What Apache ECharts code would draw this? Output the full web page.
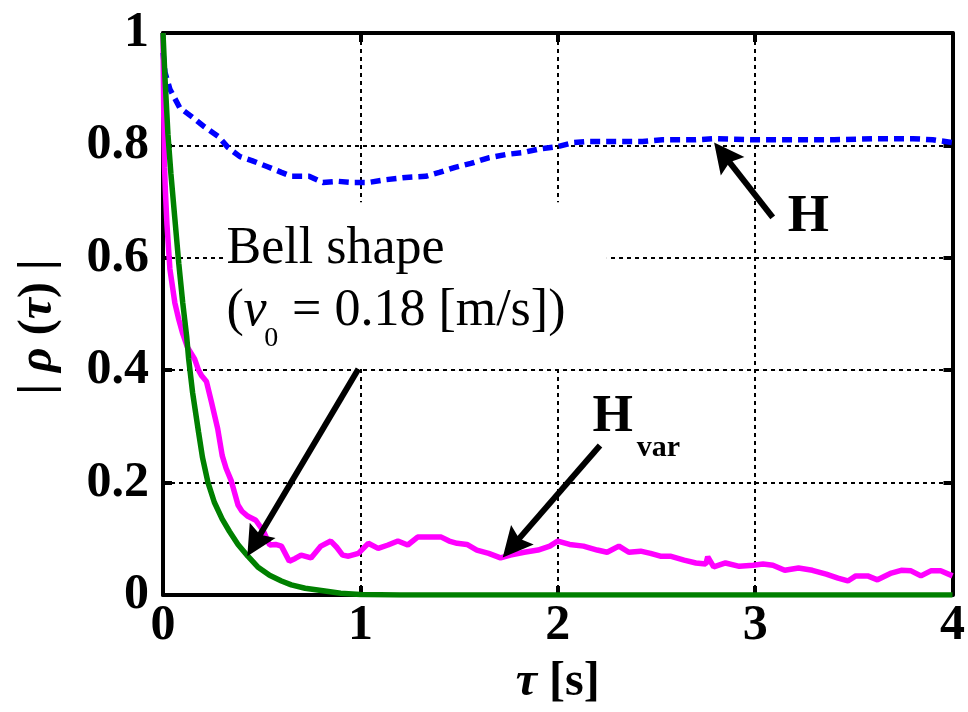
<!DOCTYPE html>
<html><head><meta charset="utf-8">
<script src="https://cdn.jsdelivr.net/npm/echarts@6/dist/echarts.min.js"></script>
<style>html,body{margin:0;padding:0;background:#fff}#c{width:968px;height:712px}</style>
</head><body><div id="c"></div>
<script>
// ---- data ----
const xTicks = [0, 1, 2, 3, 4];
const yTicks = [0, 0.2, 0.4, 0.6, 0.8, 1];

const hData = [[0,0.965],[0.01,0.93],[0.035,0.90],[0.085,0.867],[0.15,0.85],[0.21,0.833],[0.28,0.816],[0.33,0.796],[0.39,0.78],[0.45,0.773],[0.53,0.762],[0.60,0.752],[0.65,0.745],[0.74,0.745],[0.81,0.734],[0.89,0.736],[0.96,0.734],[1.04,0.734],[1.13,0.739],[1.23,0.743],[1.33,0.745],[1.40,0.752],[1.48,0.761],[1.56,0.768],[1.65,0.778],[1.74,0.784],[1.82,0.787],[1.91,0.794],[2.0,0.798],[2.08,0.805],[2.16,0.807],[2.26,0.807],[2.34,0.807],[2.43,0.807],[2.53,0.81],[2.7,0.81],[2.8,0.812],[3.0,0.81],[3.2,0.81],[3.4,0.81],[3.6,0.812],[3.8,0.812],[3.9,0.81],[4.0,0.805]];

const hVarData = [[0,1],[0.004,0.85],[0.008,0.76],[0.012,0.72],[0.02,0.66],[0.035,0.58],[0.06,0.52],[0.08,0.49],[0.10,0.465],[0.125,0.44],[0.16,0.42],[0.18,0.40],[0.196,0.39],[0.22,0.38],[0.245,0.344],[0.277,0.296],[0.30,0.248],[0.32,0.225],[0.345,0.204],[0.38,0.16],[0.40,0.149],[0.43,0.14],[0.47,0.133],[0.51,0.113],[0.54,0.089],[0.57,0.09],[0.60,0.087],[0.64,0.06],[0.67,0.065],[0.70,0.071],[0.75,0.066],[0.80,0.087],[0.85,0.096],[0.88,0.085],[0.91,0.071],[0.94,0.069],[0.99,0.074],[1.04,0.092],[1.09,0.083],[1.14,0.089],[1.19,0.096],[1.24,0.089],[1.29,0.103],[1.34,0.103],[1.41,0.103],[1.45,0.096],[1.49,0.092],[1.54,0.090],[1.59,0.080],[1.65,0.074],[1.71,0.066],[1.76,0.071],[1.83,0.076],[1.90,0.080],[1.96,0.087],[2.0,0.096],[2.06,0.090],[2.13,0.087],[2.2,0.080],[2.25,0.076],[2.31,0.087],[2.36,0.076],[2.42,0.078],[2.47,0.074],[2.52,0.069],[2.57,0.069],[2.64,0.062],[2.70,0.057],[2.75,0.055],[2.76,0.068],[2.79,0.05],[2.85,0.057],[2.92,0.051],[2.99,0.053],[3.04,0.055],[3.09,0.053],[3.15,0.044],[3.22,0.048],[3.29,0.044],[3.36,0.037],[3.42,0.030],[3.47,0.025],[3.51,0.034],[3.57,0.034],[3.62,0.027],[3.69,0.039],[3.74,0.044],[3.79,0.043],[3.84,0.034],[3.89,0.043],[3.94,0.043],[4.0,0.034]];

const bellData = [[0,1],[0.01,0.92],[0.025,0.82],[0.04,0.75],[0.06,0.67],[0.08,0.59],[0.10,0.52],[0.12,0.46],[0.13,0.42],[0.15,0.36],[0.18,0.29],[0.20,0.245],[0.228,0.20],[0.26,0.165],[0.30,0.135],[0.337,0.113],[0.38,0.09],[0.43,0.069],[0.48,0.05],[0.54,0.035],[0.60,0.025],[0.65,0.018],[0.72,0.012],[0.82,0.007],[0.9,0.003],[1.0,0.001],[1.2,0],[4,0]];

// annotation arrows (data space): [start, arrow-head centre]
const arrowBell = [[0.99, 0.402], [0.466, 0.092]];
const arrowHvar = [[2.214, 0.266], [1.771, 0.087]];
const arrowH = [[3.089, 0.672], [2.839, 0.784]];

// annotation texts
const bellLine1 = 'Bell shape';
const bellLine2a = '(';
const bellLine2v = 'v';
const bellLine2sub = '0';
const bellLine2b = '= 0.18 [m/s])';
const hLabel = 'H';
const hVarLabel = 'H';
const hVarSub = 'var';

const SERIF = "'Liberation Serif', 'Times New Roman', serif";

const chart = echarts.init(document.getElementById('c'));

function baseAxis(extra) {
  return Object.assign({
    type: 'value',
    axisLine: { show: true, onZero: false, lineStyle: { color: '#000', width: 4 } },
    axisTick: { show: true, inside: true, length: 9, lineStyle: { color: '#000', width: 4 } },
    splitLine: { show: false },
    axisLabel: { show: false }
  }, extra);
}

const labelStyle = { fontFamily: SERIF, fontWeight: 'bold', fontSize: 50, color: '#000' };
const nameRich = {
  i: { fontFamily: SERIF, fontWeight: 'bold', fontStyle: 'italic', fontSize: 48, color: '#000' },
  b: { fontFamily: SERIF, fontWeight: 'bold', fontSize: 48, color: '#000' }
};

const arrowHead = 'path://M0,0 L12,30 L0,25 L-12,30 Z';

const option = {
  animation: false,
  backgroundColor: '#fff',
  grid: { left: 163, right: 10, top: 33, bottom: 115, containLabel: false },
  xAxis: [
    baseAxis({
      position: 'bottom', min: xTicks[0], max: xTicks[xTicks.length - 1], interval: 1,
      axisLabel: Object.assign({ show: true, margin: 6 }, labelStyle),
      splitLine: { show: true, lineStyle: { color: '#000', width: 2, type: [4, 4] } },
      name: '{i|τ}{b| [s]}', nameLocation: 'middle', nameGap: 64,
      nameTextStyle: { rich: nameRich }
    }),
    baseAxis({ position: 'top', min: 0, max: 4, interval: 1 })
  ],
  yAxis: [
    baseAxis({
      position: 'left', min: yTicks[0], max: yTicks[yTicks.length - 1], interval: 0.2,
      axisLabel: Object.assign({ show: true, margin: 14 }, labelStyle),
      splitLine: { show: true, lineStyle: { color: '#000', width: 2, type: [4, 4] } },
      name: '{b|| }{i|ρ}{b| (}{i|τ}{b|) |}', nameLocation: 'middle', nameGap: 100,
      nameTextStyle: { padding: [0, 26, 0, 0], rich: nameRich }
    }),
    baseAxis({ position: 'right', min: 0, max: 1, interval: 0.2 })
  ],
  series: [
    { name: 'H', type: 'line', data: hData, showSymbol: false, symbol: 'none', z: 2,
      lineStyle: { color: '#0000ff', width: 5.5, type: [10, 6] } },
    { name: 'H_var', type: 'line', data: hVarData, showSymbol: false, symbol: 'none', z: 2,
      lineStyle: { color: '#ff00ff', width: 5.5 } },
    { name: 'Bell shape', type: 'line', data: bellData, showSymbol: false, symbol: 'none', z: 2,
      lineStyle: { color: '#008000', width: 5.5 } },
    { name: 'arrows', type: 'line', data: [], z: 5, silent: true,
      itemStyle: { color: '#000' },
      markLine: {
        silent: true, animation: false,
        symbol: ['none', arrowHead], symbolSize: 30,
        label: { show: false },
        itemStyle: { color: '#000' },
        lineStyle: { color: '#000', width: 6, type: 'solid', opacity: 1 },
        emphasis: { disabled: true },
        data: [
          [{ coord: arrowBell[0] }, { coord: arrowBell[1] }],
          [{ coord: arrowHvar[0] }, { coord: arrowHvar[1] }],
          [{ coord: arrowH[0] }, { coord: arrowH[1] }]
        ]
      } }
  ]
};
chart.setOption(option);

function px(p) { return chart.convertToPixel({ gridIndex: 0 }, p); }
const boxA = px([0.312, 0.699]);
const boxB = px([2.249, 0.406]);
const regular = (size, extra) => Object.assign({ fontFamily: SERIF, fontSize: size, fill: '#000', verticalAlign: 'middle', align: 'left' }, extra || {});

function txt(anchor, text, style) {
  const p = px(anchor);
  return { type: 'text', x: p[0], y: p[1], z: 4, silent: true, style: Object.assign({ text: text }, style) };
}

chart.setOption({
  graphic: [
    { type: 'rect', z: 1, silent: true,
      shape: { x: boxA[0], y: boxA[1], width: boxB[0] - boxA[0], height: boxB[1] - boxA[1] },
      style: { fill: '#fff' } },
    txt([0.322, 0.615], bellLine1, regular(52)),
    txt([0.322, 0.505], bellLine2a, regular(52)),
    txt([0.408, 0.505], bellLine2v, regular(52, { fontStyle: 'italic' })),
    txt([0.513, 0.456], bellLine2sub, regular(28)),
    txt([0.654, 0.505], bellLine2b, regular(52)),
    txt([3.270, 0.672], hLabel, regular(53, { fontWeight: 'bold', align: 'center' })),
    txt([2.279, 0.3156], hVarLabel, regular(52, { fontWeight: 'bold', align: 'center' })),
    txt([2.40, 0.2606], hVarSub, regular(30, { fontWeight: 'bold' }))
  ]
});
</script>
</body></html>
